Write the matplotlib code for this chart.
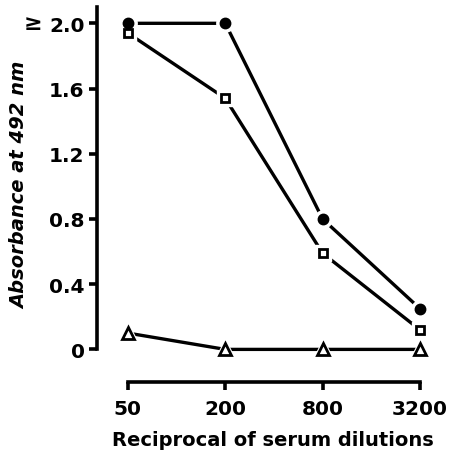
import matplotlib.pyplot as plt
import numpy as np

plt.rcParams['font.family'] = ['DejaVu Sans']

dilutions = [50, 200, 800, 3200]
filled_circle = [2.0, 2.0, 0.80, 0.25]
open_square = [1.94, 1.54, 0.59, 0.12]
open_triangle = [0.10, 0.0, 0.0, 0.0]
yticks = [0, 0.4, 0.8, 1.2, 1.6, 2.0]
ytick_labels = ['0', '0.4', '0.8', '1.2', '1.6', '2.0']

fig = plt.figure(figsize=(4.5, 4.6), dpi=100)
ax = fig.add_axes([97 / 450, 77 / 460, 343 / 450, 375 / 460])

lw = 2.4
series = [
    (filled_circle, 'o', 'black', 6.5),
    (open_square, 's', 'white', 6),
    (open_triangle, '^', 'white', 8.5),
]
for vals, m, fc, ms in series:
    ax.plot(dilutions, vals, color='black', lw=lw, zorder=2, solid_capstyle='butt')
    # white halo so the lines stop short of the markers
    ax.plot(dilutions, vals, ls='none', marker=m, ms=ms + 6, mfc='white',
            mec='white', zorder=3)
    ax.plot(dilutions, vals, ls='none', marker=m, ms=ms, mfc=fc,
            mec='black', mew=2.0, zorder=4)

ax.set_xscale('log')
ax.set_xlim(32.2, 4260)
ax.set_ylim(-0.2, 2.1)
ax.set_xticks(dilutions)
ax.set_xticklabels([str(d) for d in dilutions])
ax.xaxis.set_minor_locator(plt.NullLocator())
ax.set_yticks(yticks)
ax.set_yticklabels(ytick_labels)

for s in ['top', 'right']:
    ax.spines[s].set_visible(False)
ax.spines['left'].set_bounds(0, 2.1)
ax.spines['bottom'].set_bounds(50, 3200)
ax.spines['left'].set_linewidth(2.6)
ax.spines['bottom'].set_linewidth(2.6)
ax.tick_params(axis='both', direction='out', length=6, width=2.6,
               labelsize=14.5, pad=3)
ax.tick_params(axis='x', pad=6)
for lab in ax.get_xticklabels() + ax.get_yticklabels():
    lab.set_fontweight('bold')

fig.text(273 / 450, 1 - 441 / 460, 'Reciprocal of serum dilutions',
         ha='center', va='center', fontsize=14, fontweight='bold')
fig.text(20 / 450, 1 - 185 / 460, 'Absorbance at 492 nm', rotation=90,
         ha='center', va='center', fontsize=14, fontweight='bold',
         fontstyle='italic')
fig.text(33 / 450, 1 - 24 / 460, '\u2265', ha='center', va='center',
         fontsize=16, fontweight='bold')

fig.savefig('out.png', dpi=100)
